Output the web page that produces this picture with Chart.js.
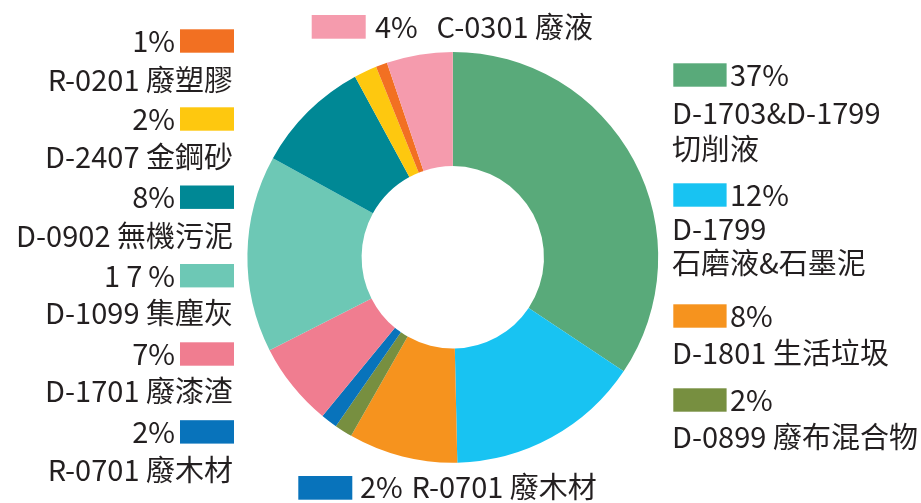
<!DOCTYPE html>
<html>
<head>
<meta charset="utf-8">
<script src="https://cdn.jsdelivr.net/npm/chart.js@4"></script>
<style>
html,body{margin:0;padding:0;background:#fff;}
canvas{display:block;}
</style>
</head>
<body>
<canvas id="c" width="921" height="503"></canvas>
<script>
// ---- data ----
const categories = [
  'D-1703&D-1799 切削液',
  'D-1799 石磨液&石墨泥',
  'D-1801 生活垃圾',
  'D-0899 廢布混合物',
  'R-0701 廢木材',
  'D-1701 廢漆渣',
  'D-1099 集塵灰',
  'D-0902 無機污泥',
  'D-2407 金鋼砂',
  'R-0201 廢塑膠',
  'C-0301 廢液'
];
// slice sizes as drawn (share of the ring, in %)
const sliceValues = [34.4, 15.3, 8.6, 1.4, 1.3, 6.6, 15.5, 9.1, 1.8, 0.9, 5.2];
// percentages printed in the labels
const percentLabels = ['37%', '12%', '8%', '2%', '2%', '7%', '17%', '8%', '2%', '1%', '4%'];

const palette = ['#59aa7a', '#18c3f2', '#f6931e', '#778f40', '#0873bb', '#f07d90',
                 '#6dc8b5', '#008895', '#fec80f', '#f27022', '#f59bad'];

// ---- label layout (positions only) ----
const rightLayout = [
  {i: 0, boxTop: 63.3, lines: [124, 159.5], split: true},
  {i: 1, boxTop: 183.3, lines: [240, 274], split: true},
  {i: 2, boxTop: 304.3, lines: [364]},
  {i: 3, boxTop: 388.3, lines: [447.5]}
];
const leftLayout = [
  {i: 9, boxTop: 29.3, line: 90.5},
  {i: 8, boxTop: 107.3, line: 168},
  {i: 7, boxTop: 185.5, line: 246.5},
  {i: 6, boxTop: 264, line: 324, spread: 6},
  {i: 5, boxTop: 342.3, line: 402},
  {i: 4, boxTop: 420.2, line: 480.5}
];
const inlineLayout = [
  {i: 10, boxX: 311.7, boxTop: 15, pctX: 375, nameX: 436.5, base: 37.5},
  {i: 4, boxX: 298.3, boxTop: 476, pctX: 360, nameX: 411.5, base: 498}
];

const FONT = '29px "Noto Sans CJK TC", "Noto Sans CJK SC", sans-serif';
const TEXT = '#231f20';
const BW = 54, BH = 23.4;

const labelPlugin = {
  id: 'sideLabels',
  afterDraw(chart) {
    const ctx = chart.ctx;
    const colors = chart.data.datasets[0].backgroundColor;
    ctx.save();
    ctx.font = FONT;
    ctx.fillStyle = TEXT;
    ctx.textBaseline = 'alphabetic';

    // right column
    rightLayout.forEach(e => {
      ctx.fillStyle = colors[e.i];
      ctx.fillRect(673.3, e.boxTop, BW - 0.7, BH);
      ctx.fillStyle = TEXT;
      ctx.textAlign = 'left';
      ctx.fillText(percentLabels[e.i], 730, e.boxTop + BH - 1);
      const name = categories[e.i];
      const parts = e.split ? [name.slice(0, name.indexOf(' ')), name.slice(name.indexOf(' ') + 1)] : [name];
      parts.forEach((p, k) => ctx.fillText(p, 672, e.lines[k]));
    });

    // left column (right-aligned)
    leftLayout.forEach(e => {
      ctx.fillStyle = colors[e.i];
      ctx.fillRect(180, e.boxTop, BW, BH);
      ctx.fillStyle = TEXT;
      ctx.textAlign = 'right';
      if (e.spread && 'letterSpacing' in ctx) {
        ctx.letterSpacing = e.spread + 'px';
        ctx.fillText(percentLabels[e.i], 175 + e.spread, e.boxTop + BH - 0.5);
        ctx.letterSpacing = '0px';
      } else {
        ctx.fillText(percentLabels[e.i], 175, e.boxTop + BH - 0.5);
      }
      ctx.fillText(categories[e.i], 233, e.line);
    });

    // inline labels (top / bottom)
    inlineLayout.forEach(e => {
      ctx.fillStyle = colors[e.i];
      ctx.fillRect(e.boxX, e.boxTop, BW, BH + 0.3);
      ctx.fillStyle = TEXT;
      ctx.textAlign = 'left';
      ctx.fillText(percentLabels[e.i], e.pctX, e.base);
      ctx.fillText(categories[e.i], e.nameX, e.base);
    });
    ctx.restore();
  }
};

function make() {
  new Chart(document.getElementById('c'), {
    type: 'doughnut',
    data: {
      labels: categories,
      datasets: [{
        data: sliceValues,
        backgroundColor: palette,
        borderWidth: 0
      }]
    },
    options: {
      responsive: false,
      animation: false,
      radius: 205.4,
      cutout: '44.4%',
      layout: {padding: {left: 0, right: 15.4, top: 11.6, bottom: 0}},
      plugins: {legend: {display: false}, tooltip: {enabled: false}}
    },
    plugins: [labelPlugin]
  });
}
if (document.fonts && document.fonts.load) {
  document.fonts.load(FONT, '廢塑膠').then(make, make);
} else { make(); }
</script>
</body>
</html>
